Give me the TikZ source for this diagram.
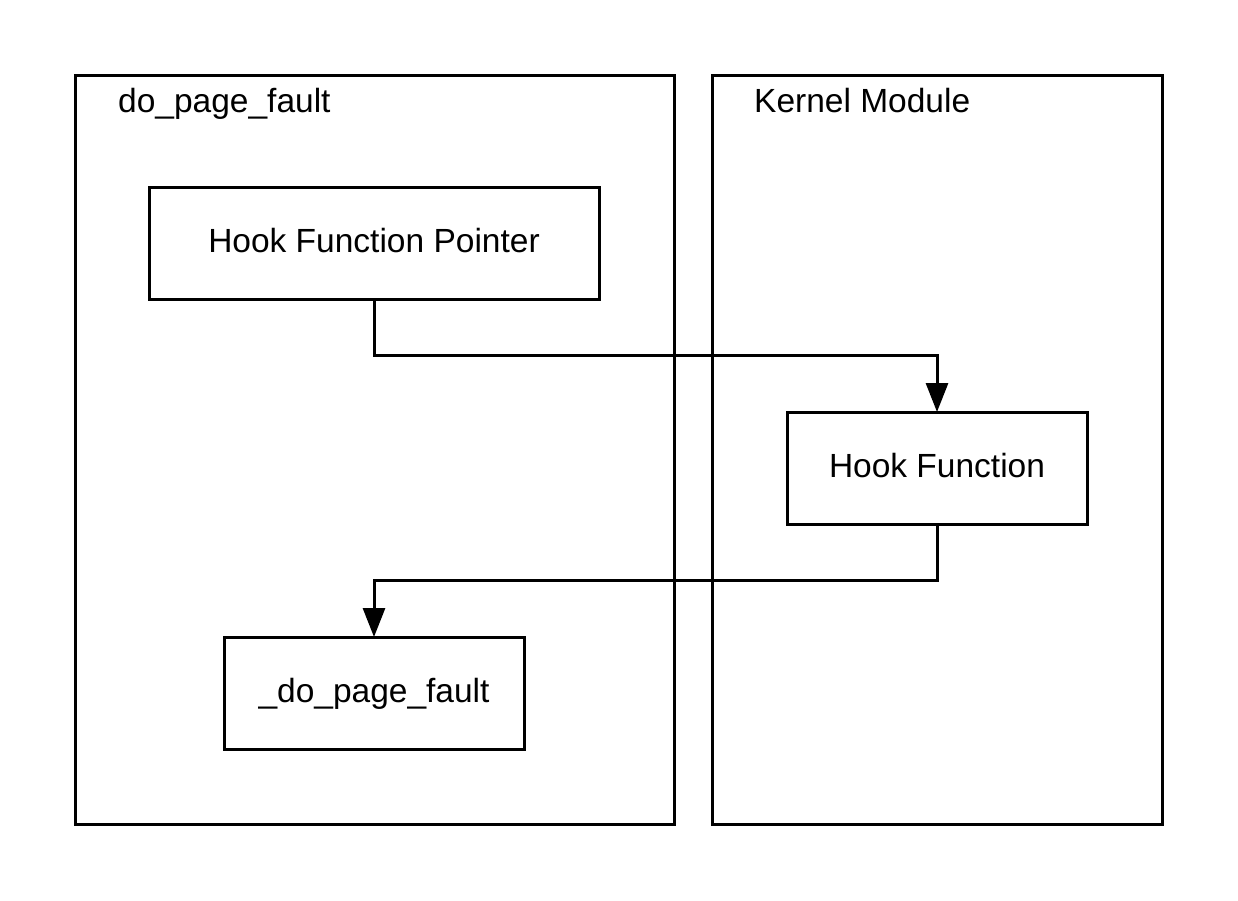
\documentclass[tikz,border=0pt]{standalone}
\usepackage{fontspec}
\setmainfont{Liberation Sans}
\usetikzlibrary{arrows.meta}
\begin{document}
\begin{tikzpicture}[x=1pt,y=-1pt,
  box/.style={draw=black, line width=3pt, rectangle, inner sep=0pt, outer sep=0pt,
    text height=24pt, text depth=6pt, font=\fontsize{33.5}{40}\selectfont},
  frame/.style={draw=black, line width=3pt, rectangle, inner sep=0pt, outer sep=0pt},
  lbl/.style={inner sep=0pt, anchor=base west, font=\fontsize{33.5}{40}\selectfont},
  conn/.style={draw=black, line width=3pt, -{Triangle[length=29pt,width=22pt]}}]
\useasboundingbox (0,0) rectangle (1238,900);
% outer containers
\node[frame, minimum width=599pt, minimum height=749pt] (left) at (374.5,449.5) {};
\node[frame, minimum width=450pt, minimum height=749pt] (right) at (937,449.5) {};
\node[lbl] (leftlbl) at (118,112) {do\_page\_fault};
\node[lbl] (rightlbl) at (754,112) {Kernel Module};
% inner boxes
\node[box, minimum width=450pt, minimum height=112pt] (hfp) at (374,243) {Hook Function Pointer};
\node[box, minimum width=300pt, minimum height=112pt] (hf) at (937,468) {Hook Function};
\node[box, minimum width=300pt, minimum height=112pt] (dpf) at (374,693) {\_do\_page\_fault};
% connectors
\draw[conn] (hfp.south) -- ++(0,56) -| (hf.north);
\draw[conn] (hf.south) -- ++(0,56) -| (dpf.north);
\end{tikzpicture}
\end{document}
